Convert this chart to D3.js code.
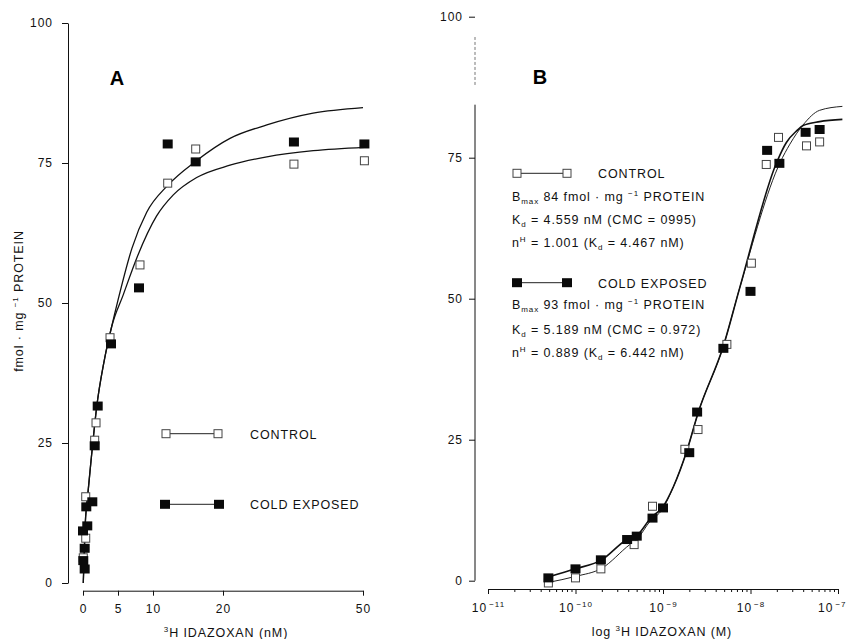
<!DOCTYPE html>
<html>
<head>
<meta charset="utf-8">
<script src="https://cdn.jsdelivr.net/npm/d3@7"></script>
<style>
  body { margin: 0; background: #fff; }
  svg { font-family: "Liberation Sans", Arial, sans-serif; }
  .tick text { font-size: 12px; letter-spacing: 1px; fill: #111; }
  .tick line, .domain { stroke: #111; }
  .lbl { font-size: 12.5px; letter-spacing: 0.9px; fill: #111; }
</style>
</head>
<body>
<script>
// ---- panel A : saturation, 3H idazoxan (nM) ----
var ctrlAx = [0.04, 0.39, 0.39, 1.67, 1.86, 3.86, 8.14, 12.1, 16.1, 35.2, 50.3];
var ctrlAy = [4.5, 8.0, 15.4, 25.5, 28.6, 43.8, 56.8, 71.4, 77.5, 74.8, 75.4];
var coldAx = [0.04, 0.24, 0.24, 0.0, 0.61, 0.47, 1.33, 1.67, 2.1, 4.0, 8.0, 12.1, 16.1, 35.2, 50.3];
var coldAy = [4.0, 2.5, 6.2, 9.3, 10.2, 13.6, 14.5, 24.5, 31.6, 42.7, 52.7, 78.4, 75.2, 78.75, 78.4];

// fitted curves
var baseFitAx = [0.04, 0.3, 0.7, 1.2, 1.96, 3.0, 4.1];
var baseFitAy = [0, 10, 16, 22.5, 31.5, 39.5, 45.8];
var upFitAx = [5.0, 7.0, 9.1, 12.1, 16.2, 21.5, 29.4, 39.3, 50];
var upFitAy = [50.5, 59.8, 66.2, 71.0, 75.4, 79.4, 81.8, 83.9, 84.9];
var lowFitAx = [5.76, 7.67, 10.5, 12.9, 16.24, 21.5, 29.4, 39.35, 50.3];
var lowFitAy = [51.5, 58.0, 65.5, 69.3, 72.4, 74.6, 76.1, 77.2, 77.8];

var ticksAx = [0, 5, 10, 20, 50];
var ticksY = [0, 25, 50, 75, 100];

// ---- panel B : log 3H idazoxan (M), exponents ----
var ctrlBx = [-10.31, -10.0, -9.71, -9.33, -9.12, -8.75, -8.60, -8.27, -7.99, -7.82, -7.68, -7.36, -7.21];
var ctrlBy = [-0.4, 0.5, 2.1, 6.4, 13.2, 23.3, 26.8, 41.9, 56.3, 73.8, 78.6, 77.1, 77.8];
var coldBx = [-10.31, -10.0, -9.71, -9.41, -9.30, -9.12, -9.0, -8.70, -8.61, -8.31, -8.0, -7.81, -7.67, -7.37, -7.21];
var coldBy = [0.5, 2.1, 3.7, 7.3, 7.9, 11.1, 12.9, 22.7, 29.9, 41.2, 51.3, 76.3, 74.0, 79.5, 80.0];

var ctrlFitBx = [-10.31, -10.0, -9.70, -9.38, -9.30, -9.15, -9.01, -8.88, -8.73, -8.60, -8.31, -8.12, -7.66, -7.55, -7.40, -7.21, -6.95];
var ctrlFitBy = [-0.3, 0.76, 2.2, 6.4, 7.3, 10.5, 12.6, 16.7, 22.9, 29.7, 41.6, 52.1, 74.2, 77.4, 80.8, 83.4, 84.1];
var coldFitBx = [-10.31, -10.0, -9.70, -9.41, -9.30, -9.13, -9.01, -8.88, -8.73, -8.60, -8.31, -8.12, -7.70, -7.59, -7.47, -7.40, -7.21, -6.95];
var coldFitBy = [0.66, 2.1, 3.7, 7.3, 8.0, 11.3, 12.9, 16.7, 22.9, 29.7, 41.6, 52.1, 74.2, 77.7, 79.8, 80.7, 81.4, 81.8];

var ticksBx = [-11, -10, -9, -8, -7];

var zip = function(xs, ys) { return xs.map(function(x, i) { return [x, ys[i]]; }); };

var svg = d3.select("body").append("svg")
    .attr("width", 847)
    .attr("height", 639);

// scales
var xA = d3.scaleLinear().domain([0, 20, 50]).range([83, 223, 363]);
var yA = d3.scaleLinear().domain([0, 100]).range([583, 23]);
var xB = d3.scaleLinear().domain([-11, -7]).range([488, 838]);
var yB = d3.scaleLinear().domain([0, 100]).range([580.7, 16.7]);

// ---------- panel A axes ----------
svg.append("g")
    .attr("transform", "translate(68,0)")
    .call(d3.axisLeft(yA).tickValues(ticksY).tickSize(6).tickSizeOuter(0).tickPadding(9));

svg.append("g")
    .attr("transform", "translate(0,590.7)")
    .call(d3.axisBottom(xA).tickValues(ticksAx).tickSize(5).tickSizeOuter(0).tickPadding(9));

// ---------- panel B axes ----------
var gyB = svg.append("g")
    .attr("transform", "translate(475,0)")
    .call(d3.axisLeft(yB).tickValues(ticksY).tickSize(6).tickSizeOuter(0).tickPadding(6));
gyB.select(".domain").remove();
// broken axis line at the top
gyB.append("line").attr("y1", yB(0)).attr("y2", yB(84.4)).attr("stroke", "#111");
gyB.append("line").attr("y1", yB(87.9)).attr("y2", yB(96.4))
    .attr("stroke", "#777").attr("stroke-dasharray", "3,2");

var minorB = [];
ticksBx.slice(0, -1).forEach(function(e) {
    d3.range(2, 10).forEach(function(k) { minorB.push(e + Math.log10(k)); });
});
svg.append("g")
    .attr("transform", "translate(0,589)")
    .call(d3.axisBottom(xB).tickValues(minorB).tickSize(3).tickSizeOuter(0).tickFormat(""));

var gxB = svg.append("g")
    .attr("transform", "translate(0,589)")
    .call(d3.axisBottom(xB).tickValues(ticksBx).tickSize(5).tickSizeOuter(0).tickPadding(9));
gxB.selectAll(".tick text").each(function(d, i, nodes) {
    var t = d3.select(this).text("");
    // last label sits on the picture's right edge: pull it in
    if (i == nodes.length - 1) t.attr("text-anchor", "end").attr("x", 8);
    t.append("tspan").text("10");
    t.append("tspan").attr("dx", 2).attr("dy", -5).style("font-size", "8px").text("\u2212" + (-d));
});

// ---------- curves ----------
var lineA = d3.line().x(function(d) { return xA(d[0]); }).y(function(d) { return yA(d[1]); }).curve(d3.curveMonotoneX);
var lineB = d3.line().x(function(d) { return xB(d[0]); }).y(function(d) { return yB(d[1]); }).curve(d3.curveMonotoneX);

var baseA = zip(baseFitAx, baseFitAy);
svg.append("path").datum(baseA.concat(zip(upFitAx, upFitAy)))
    .attr("d", lineA).attr("fill", "none").attr("stroke", "#111").attr("stroke-width", 1.3);
svg.append("path").datum(baseA.concat(zip(lowFitAx, lowFitAy)))
    .attr("d", lineA).attr("fill", "none").attr("stroke", "#111").attr("stroke-width", 1.3);

svg.append("path").datum(zip(ctrlFitBx, ctrlFitBy))
    .attr("d", lineB).attr("fill", "none").attr("stroke", "#222").attr("stroke-width", 1);
svg.append("path").datum(zip(coldFitBx, coldFitBy))
    .attr("d", lineB).attr("fill", "none").attr("stroke", "#111").attr("stroke-width", 1.6);

// ---------- points ----------
function openSq(g, pts, sx, sy) {
    g.selectAll(null).data(pts).enter().append("rect")
        .attr("x", function(d) { return sx(d[0]) - 4; })
        .attr("y", function(d) { return sy(d[1]) - 4; })
        .attr("width", 8).attr("height", 8)
        .attr("fill", "#fff").attr("stroke", "#444").attr("stroke-width", 1);
}
function fillSq(g, pts, sx, sy) {
    g.selectAll(null).data(pts).enter().append("rect")
        .attr("x", function(d) { return sx(d[0]) - 5; })
        .attr("y", function(d) { return sy(d[1]) - 4.5; })
        .attr("width", 10).attr("height", 9)
        .attr("fill", "#0a0a0a");
}
var pts = svg.append("g");
openSq(pts, zip(ctrlAx, ctrlAy), xA, yA);
fillSq(pts, zip(coldAx, coldAy), xA, yA);
openSq(pts, zip(ctrlBx, ctrlBy), xB, yB);
fillSq(pts, zip(coldBx, coldBy), xB, yB);

// ---------- legends ----------
function legendRow(x1, x2, y, filled) {
    svg.append("line").attr("x1", x1).attr("x2", x2).attr("y1", y).attr("y2", y)
        .attr("stroke", "#222").attr("stroke-width", 1);
    [x1, x2].forEach(function(x) {
        if (filled) {
            svg.append("rect").attr("x", x - 5).attr("y", y - 4.5).attr("width", 10).attr("height", 9).attr("fill", "#0a0a0a");
        } else {
            svg.append("rect").attr("x", x - 4).attr("y", y - 4).attr("width", 8).attr("height", 8)
                .attr("fill", "#fff").attr("stroke", "#444");
        }
    });
}
legendRow(166, 218, 433.7, false);
legendRow(165, 219, 504.3, true);
svg.append("text").attr("class", "lbl").attr("x", 250).attr("y", 438.5).text("CONTROL");
svg.append("text").attr("class", "lbl").attr("x", 250).attr("y", 509).text("COLD EXPOSED");

legendRow(517, 567, 173.3, false);
legendRow(517, 567, 282.7, true);
svg.append("text").attr("class", "lbl").attr("x", 598).attr("y", 178).text("CONTROL");
svg.append("text").attr("class", "lbl").attr("x", 598).attr("y", 287.5).text("COLD EXPOSED");

// parameter lines: [text, sub|sup|back]
function paramLine(y, parts) {
    var t = svg.append("text").attr("class", "lbl").attr("x", 512).attr("y", y);
    parts.forEach(function(p) {
        var s = t.append("tspan").text(p[0]);
        if (p[1] == "sub") s.attr("dy", 3).style("font-size", "8px");
        if (p[1] == "sup") s.attr("dy", -5).style("font-size", "8px");
        if (p[1] == "back") s.attr("dy", p[2]);
    });
}
paramLine(200.5, [["B"], ["max", "sub"], [" 84 fmol \u00b7 mg ", "back", -3], ["\u22121", "sup"], [" PROTEIN", "back", 5]]);
paramLine(224, [["K"], ["d", "sub"], [" = 4.559 nM (CMC = 0995)", "back", -3]]);
paramLine(247.3, [["n"], ["H", "sup"], [" = 1.001 (K", "back", 5], ["d", "sub"], [" = 4.467 nM)", "back", -3]]);
paramLine(309.3, [["B"], ["max", "sub"], [" 93 fmol \u00b7 mg ", "back", -3], ["\u22121", "sup"], [" PROTEIN", "back", 5]]);
paramLine(334, [["K"], ["d", "sub"], [" = 5.189 nM (CMC = 0.972)", "back", -3]]);
paramLine(357.3, [["n"], ["H", "sup"], [" = 0.889 (K", "back", 5], ["d", "sub"], [" = 6.442 nM)", "back", -3]]);

// ---------- panel letters and axis titles ----------
svg.append("text").attr("x", 117).attr("y", 85).attr("text-anchor", "middle")
    .style("font-size", "20px").style("font-weight", "bold").text("A");
svg.append("text").attr("x", 540).attr("y", 84).attr("text-anchor", "middle")
    .style("font-size", "20px").style("font-weight", "bold").text("B");

var xtA = svg.append("text").attr("class", "lbl").attr("x", 226).attr("y", 637).attr("text-anchor", "middle");
xtA.append("tspan").attr("dy", -5).style("font-size", "8px").text("3");
xtA.append("tspan").attr("dy", 5).text("H IDAZOXAN (nM)");

var xtB = svg.append("text").attr("class", "lbl").attr("x", 662).attr("y", 636).attr("text-anchor", "middle");
xtB.append("tspan").text("log ");
xtB.append("tspan").attr("dy", -5).style("font-size", "8px").text("3");
xtB.append("tspan").attr("dy", 5).text("H IDAZOXAN (M)");

var ytA = svg.append("text").attr("class", "lbl").attr("text-anchor", "middle")
    .attr("transform", "translate(23,301) rotate(-90)");
ytA.append("tspan").text("fmol \u00b7 mg ");
ytA.append("tspan").attr("dy", -5).style("font-size", "8px").text("\u22121");
ytA.append("tspan").attr("dy", 5).text(" PROTEIN");
</script>
</body>
</html>
